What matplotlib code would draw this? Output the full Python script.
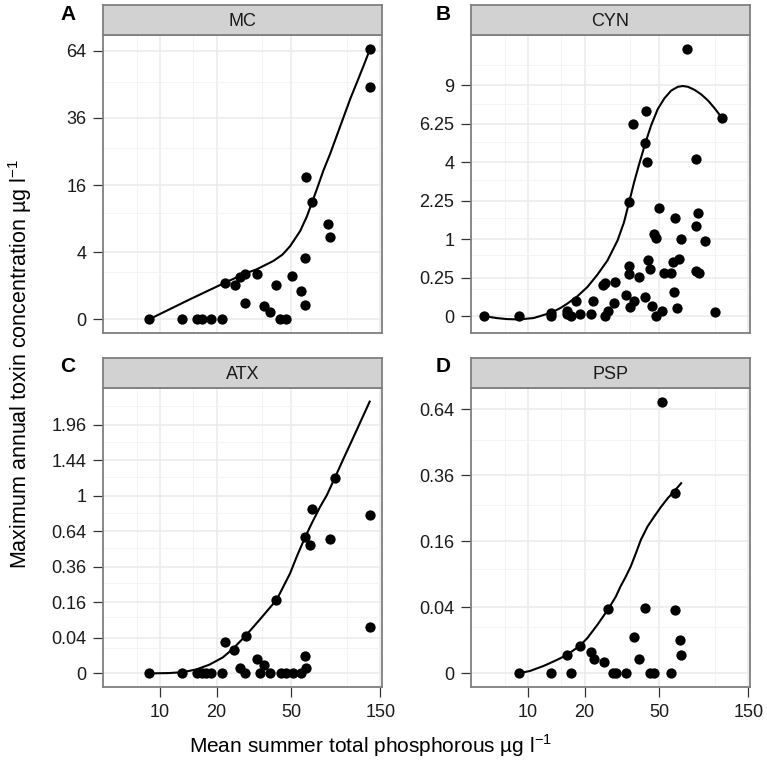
import numpy as np
import matplotlib.pyplot as plt

plt.rcParams['font.family'] = ['Liberation Sans', 'DejaVu Sans']
plt.rcParams['mathtext.fontset'] = 'custom'
plt.rcParams['mathtext.rm'] = 'Liberation Sans'

# mean summer TP (ug/l) and max annual toxin (ug/l)
mc_tp = [8.7, 13.1, 15.7, 16.7, 18.7, 21.5, 22.1, 25.0, 26.6, 28.5, 32.9, 28.3, 36.0, 38.7,
         41.8, 43.7, 46.8, 50.8, 56.8, 59.4, 59.0, 59.9, 64.5, 78.5, 80.5, 131.5, 131.5]
mc_tox = [0, 0, 0, 0, 0, 0, 1.19, 1.04, 1.61, 1.82, 1.79, 0.23, 0.17, 0.05,
          1.04, 0, 0, 1.66, 0.73, 0.18, 3.3, 17.9, 12.3, 8.0, 6.0, 65.0, 47.8]

cyn_tp = [5.8, 8.9, 13.2, 13.2, 16.1, 16.1, 17.0, 18.1, 18.9, 21.7,
          22.3, 25.2, 25.6, 25.6, 26.8, 29.0, 28.7, 33.2, 34.5, 34.6,
          34.6, 35.0, 36.3, 36.8, 38.9, 41.9, 42.2, 42.7, 42.9, 43.4,
          44.7, 45.6, 47.1, 48.3, 48.3, 49.9, 52.0, 53.3, 57.9, 59.4,
          59.9, 60.7, 62.4, 64.2, 65.2, 70.2, 78.9, 79.2, 81.0, 79.2,
          82.0, 88.3, 99.1, 108.8]
cyn_tox = [0, 0, 0.002, 0, 0.005, 0.001, 0, 0.038, 0.001, 0.0005,
           0.038, 0.158, 0.19, 0, 0.004, 0.20, 0.03, 0.077, 0.43, 0.30,
           2.19, 0.014, 6.26, 0.04, 0.26, 0.061, 5.04, 7.13, 4.0, 0.54,
           0.38, 0.017, 1.14, 1.04, 0, 1.96, 0.005, 0.32, 0.32, 0.50,
           0.10, 1.63, 0.011, 0.55, 1.01, 12.09, 4.17, 1.38, 1.81, 0.35,
           0.31, 0.95, 0.003, 6.6]

atx_tp = [8.7, 13.1, 15.7, 16.7, 17.6, 18.7, 21.5, 22.1, 24.7, 26.6,
          28.6, 28.3, 32.9, 34.1, 36.0, 38.7, 41.8, 44.0, 46.8, 51.0,
          56.8, 59.0, 59.9, 131.5, 59.4, 63.2, 64.5, 80.5, 85.5, 131.5]
atx_tox = [0, 0, 0, 0, 0, 0, 0, 0.031, 0.018, 0.001,
           0.045, 0, 0.007, 0, 0.002, 0, 0.172, 0, 0, 0,
           0, 0.010, 0.001, 0.069, 0.587, 0.52, 0.857, 0.57, 1.21, 0.80]

psp_tp = [8.9, 13.3, 17.0, 16.1, 18.9, 21.7, 22.5, 25.3, 26.8, 28.5, 29.3, 33.3,
          36.7, 39.0, 42.2, 44.7, 47.1, 51.7, 57.7, 60.5, 60.5, 64.6, 65.6]
psp_tox = [0, 0, 0, 0.0031, 0.0071, 0.0041, 0.0019, 0.0012, 0.038, 0, 0, 0,
           0.0124, 0.0019, 0.039, 0, 0, 0.678, 0, 0.037, 0.30, 0.0103, 0.0031]

# fitted curves, values already on the sqrt scale
mc_fit_tp = [8.7, 14.3, 22.1, 28.5, 32.7, 40.2, 45.0, 49.4, 55.9, 60.7, 64.5, 68.7, 74.4,
             81.0, 88.0, 95.5, 103.8, 112.7, 122.4, 131.5]
mc_fit_sq = [0, 0.59, 1.09, 1.37, 1.49, 1.74, 1.93, 2.18, 2.63, 3.06, 3.46, 3.88, 4.43,
             4.94, 5.49, 6.03, 6.58, 7.07, 7.57, 8.02]

cyn_fit_tp = [5.82, 6.78, 7.68, 8.87, 10.68, 13.24, 14.86, 16.14, 18.27, 20.7,
              23.4, 26.5, 30.0, 32.5, 34.6, 36.8, 39.2, 42.2, 45.3, 49.2,
              53.4, 58.0, 63.0, 67.0, 71.3, 77.4, 84.1, 91.4, 99.1, 108.8]
cyn_fit_sq = [0, -0.026, -0.039, -0.044, -0.026, 0.043, 0.104, 0.16, 0.255, 0.377,
              0.536, 0.722, 0.982, 1.22, 1.48, 1.74, 1.98, 2.245, 2.475, 2.69,
              2.83, 2.93, 2.98, 2.99, 2.98, 2.94, 2.88, 2.80, 2.70, 2.57]

atx_fit_tp = [8.73, 11.18, 13.2, 15.56, 18.3, 21.6, 24.5, 28.6, 34.1, 41.9, 49.4,
              53.6, 59.4, 64.5, 71.6, 77.8, 85.5, 95.5, 106.0, 117.5, 131.5]
atx_fit_sq = [0, 0.002, 0.007, 0.022, 0.049, 0.09, 0.139, 0.212, 0.304, 0.415, 0.563,
              0.657, 0.766, 0.845, 0.939, 1.005, 1.099, 1.211, 1.314, 1.417, 1.53]

psp_fit_tp = [8.87, 10.25, 12.1, 14.26, 16.1, 18.9, 20.7, 23.4, 26.8, 29.4, 31.1,
              33.2, 35.3, 37.6, 40.0, 43.4, 47.1, 51.3, 55.7, 60.5, 65.6]
psp_fit_sq = [0, 0.0076, 0.0227, 0.041, 0.056, 0.084, 0.107, 0.147, 0.195, 0.233, 0.263,
              0.293, 0.324, 0.364, 0.405, 0.445, 0.475, 0.505, 0.531, 0.553, 0.576]

titles = ['MC', 'CYN', 'ATX', 'PSP']
letters = ['A', 'B', 'C', 'D']
y_breaks = [[0, 4, 16, 36, 64],
            [0, 0.25, 1, 2.25, 4, 6.25, 9],
            [0, 0.04, 0.16, 0.36, 0.64, 1, 1.44, 1.96],
            [0, 0.04, 0.16, 0.36, 0.64]]
x_breaks = [10, 20, 50, 150]
x_minor = [7.5, 15, 35, 100]

panels = [(mc_tp, mc_tox, mc_fit_tp, mc_fit_sq),
          (cyn_tp, cyn_tox, cyn_fit_tp, cyn_fit_sq),
          (atx_tp, atx_tox, atx_fit_tp, atx_fit_sq),
          (psp_tp, psp_tox, psp_fit_tp, psp_fit_sq)]

W, H = 767, 764
fig = plt.figure(figsize=(W / 100, H / 100), dpi=100)

# pixel boxes: left, right, strip top, panel top, panel bottom
lefts = [103, 471]
letter_x = [68, 443]
rows = [(5, 35, 333), (358, 388, 687)]
border = '#7F7F7F'

for i, (tp, tox, ftp, fsq) in enumerate(panels):
    l = lefts[i % 2]
    st, pt, pb = rows[i // 2]
    w = 279
    ax = fig.add_axes([l / W, 1 - pb / H, w / W, (pb - pt) / H])
    ax.set_xscale('log')
    ax.set_axisbelow(True)

    ax.plot(ftp, fsq, color='black', lw=1.5, zorder=2)
    ax.scatter(tp, np.sqrt(tox), s=55, color='black', zorder=3, linewidths=0)

    ylim = ax.get_ylim()
    ticks = y_breaks[i]
    step = np.sqrt(ticks[1])
    n = len(ticks)
    minors = [((k * step) ** 2 + ((k + 1) * step) ** 2) / 2 for k in range(n)]
    ax.set_yticks(np.sqrt(ticks))
    ax.set_yticklabels(['%g' % t for t in ticks])
    ax.set_yticks(np.sqrt(minors), minor=True)
    ax.set_ylim(ylim)

    ax.set_xticks(x_breaks)
    ax.set_xticklabels([str(b) for b in x_breaks])
    ax.set_xticks(x_minor, minor=True)
    ax.xaxis.set_minor_formatter(plt.NullFormatter())
    ax.set_xlim(4.95, 153)

    ax.grid(which='major', color='#EBEBEB', lw=1.1)
    ax.grid(which='minor', color='#F3F3F3', lw=0.6)
    ax.tick_params(which='major', length=7, width=0.9, color='#333333',
                   labelsize=13, labelcolor='#1A1A1A', pad=5)
    ax.tick_params(which='minor', length=0)
    if i < 2:
        # top row: no x axis ticks
        ax.tick_params(axis='x', which='both', length=0, labelbottom=False)
    for sp in ax.spines.values():
        sp.set_color(border)
        sp.set_linewidth(1.3)

    # facet strip
    sax = fig.add_axes([l / W, 1 - pt / H, w / W, (pt - st) / H])
    sax.set_facecolor('#D2D2D2')
    sax.set_xticks([])
    sax.set_yticks([])
    for sp in sax.spines.values():
        sp.set_color(border)
        sp.set_linewidth(1.3)
    sax.text(0.5, 0.45, titles[i], ha='center', va='center', fontsize=13,
             color='#1A1A1A', transform=sax.transAxes)

    fig.text(letter_x[i % 2] / W, 1 - (st + 9) / H, letters[i], ha='center', va='center',
             fontsize=15, fontweight='bold')

fig.text(371 / W, 1 - 753 / H, r'Mean summer total phosphorous µg l$^{-1}$',
         ha='center', va='baseline', fontsize=15)
fig.text(20 / W, 1 - 364 / H, r'Maximum annual toxin concentration µg l$^{-1}$',
         ha='center', va='center', rotation=90, fontsize=15.5)

fig.savefig('out.png', dpi=100)
